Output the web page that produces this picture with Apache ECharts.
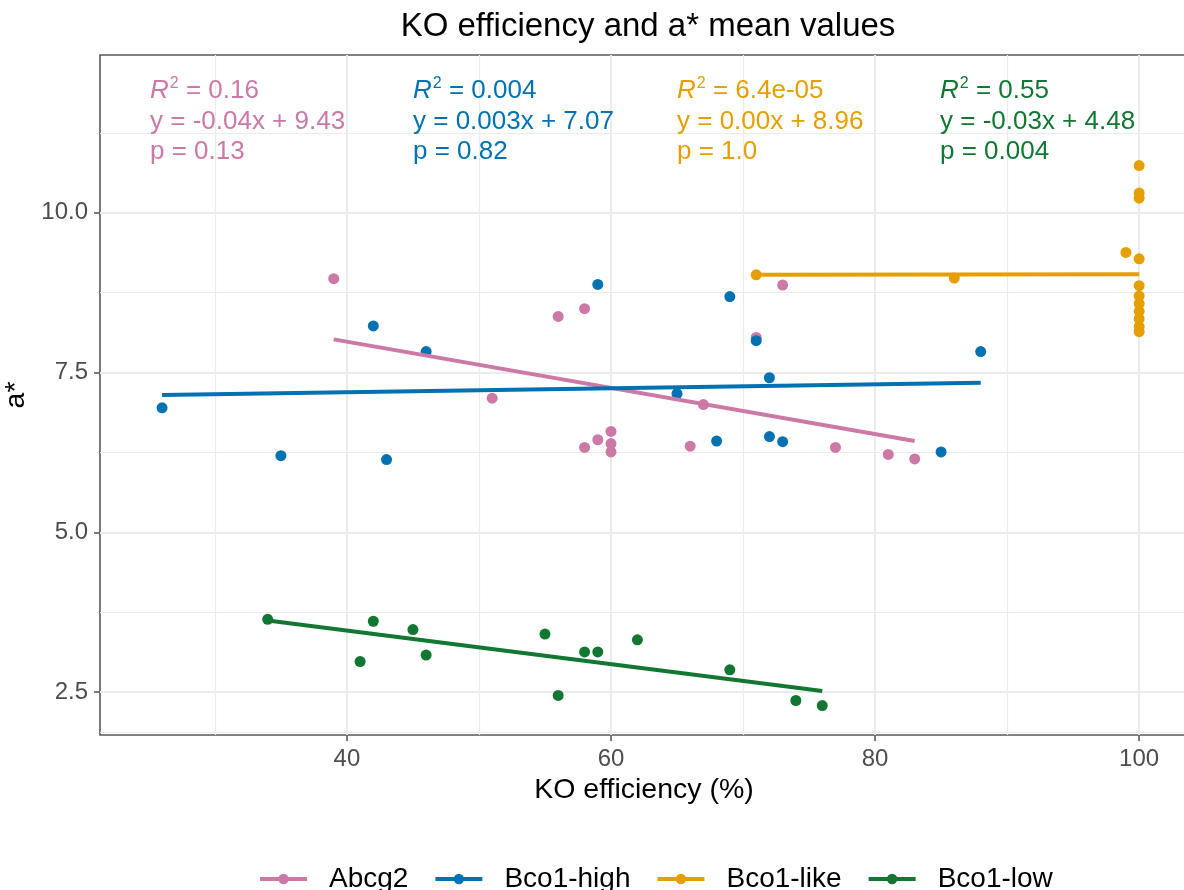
<!DOCTYPE html>
<html><head><meta charset="utf-8">
<script src="https://cdn.jsdelivr.net/npm/echarts@6/dist/echarts.min.js"></script>
<style>html,body{margin:0;padding:0;background:#fff}#c{width:1184px;height:890px}</style>
</head><body><div id="c"></div>
<script>
const groups = ['Abcg2', 'Bco1-high', 'Bco1-like', 'Bco1-low'];
const colors = ['#CC79A7', '#0072B2', '#E69F00', '#117733'];

const abcg2X = [39, 51, 56, 58, 58, 59, 60, 60, 60, 66, 67, 71, 73, 77, 81, 83];
const abcg2Y = [8.97, 7.10, 8.38, 8.50, 6.33, 6.45, 6.58, 6.39, 6.26, 6.35, 7.00, 8.05, 8.87, 6.33, 6.22, 6.15];
const highX = [26, 35, 42, 43, 46, 59, 65, 68, 69, 71, 72, 72, 73, 85, 88];
const highY = [6.95, 6.20, 8.23, 6.14, 7.83, 8.88, 7.17, 6.43, 8.69, 8.00, 7.42, 6.50, 6.42, 6.26, 7.83];
const likeX = [71, 86, 99, 100, 100, 100, 100, 100, 100, 100, 100, 100, 100, 100];
const likeY = [9.03, 8.98, 9.38, 10.74, 10.31, 10.23, 9.28, 8.86, 8.70, 8.58, 8.46, 8.34, 8.22, 8.14];
const lowX = [34, 41, 42, 45, 46, 55, 56, 58, 59, 62, 69, 74, 76];
const lowY = [3.64, 2.98, 3.61, 3.48, 3.08, 3.41, 2.45, 3.13, 3.13, 3.32, 2.85, 2.37, 2.29];

// fitted regression line end points (x, y)
const fitAbcg2 = [[39, 8.02], [83, 6.43]];
const fitHigh = [[26, 7.15], [88, 7.34]];
const fitLike = [[71, 9.03], [100, 9.04]];
const fitLow = [[34, 3.62], [76, 2.52]];

const xTicks = [40, 60, 80, 100];
const xMinor = [30, 50, 70, 90];
const yTicks = [2.5, 5.0, 7.5, 10.0];
const yMinor = [1.875, 3.75, 6.25, 8.75, 11.25];

const statR2 = ['0.16', '0.004', '6.4e-05', '0.55'];
const statEq = ['y = -0.04x + 9.43', 'y = 0.003x + 7.07', 'y = 0.00x + 8.96', 'y = -0.03x + 4.48'];
const statP = ['p = 0.13', 'p = 0.82', 'p = 1.0', 'p = 0.004'];

const xs = [abcg2X, highX, likeX, lowX];
const ys = [abcg2Y, highY, likeY, lowY];
const fits = [fitAbcg2, fitHigh, fitLike, fitLow];

const FONT = '"Liberation Sans", Arial, sans-serif';
const chart = echarts.init(document.getElementById('c'), null, {renderer: 'canvas'});

const series = [];
// grid lines
series.push({
  type: 'line', data: [], z: 1, silent: true,
  markLine: {
    z: 1, silent: true, symbol: 'none', animation: false,
    label: {show: false},
    lineStyle: {color: '#EBEBEB', width: 1.2, type: 'solid'},
    emphasis: {disabled: true},
    data: xMinor.map(v => ({xAxis: v})).concat(yMinor.map(v => ({yAxis: v})))
  }
});
series.push({
  type: 'line', data: [], z: 1, silent: true,
  markLine: {
    z: 1, silent: true, symbol: 'none', animation: false,
    label: {show: false},
    lineStyle: {color: '#EBEBEB', width: 2, type: 'solid'},
    emphasis: {disabled: true},
    data: xTicks.map(v => ({xAxis: v})).concat(yTicks.map(v => ({yAxis: v})))
  }
});
groups.forEach((g, i) => {
  series.push({
    name: g, type: 'line', z: 4,
    data: fits[i],
    symbol: 'circle', symbolSize: 11, showSymbol: false,
    itemStyle: {color: colors[i]},
    lineStyle: {color: colors[i], width: 4},
    animation: false, silent: true
  });
});
groups.forEach((g, i) => {
  series.push({
    name: g, type: 'scatter', z: 3,
    data: xs[i].map((x, k) => [x, ys[i][k]]),
    symbol: 'circle', symbolSize: 11,
    itemStyle: {color: colors[i], opacity: 1},
    animation: false, silent: true
  });
});

const graphics = [];
const annX = [150, 413, 677, 940];
groups.forEach((g, i) => {
  graphics.push({
    type: 'text', left: annX[i], top: 76, silent: true, z: 10,
    style: {
      text: '{r|R}{s|2}{n| = ' + statR2[i] + '}\n{n|' + statEq[i] + '}\n{n|' + statP[i] + '}',
      fill: colors[i],
      font: '26px ' + FONT,
      rich: {
        r: {fontStyle: 'italic', fontSize: 26, fontFamily: FONT, fill: colors[i], lineHeight: 30.5},
        s: {fontSize: 16, fontFamily: FONT, fill: colors[i], verticalAlign: 'top', lineHeight: 30.5, padding: [0, 0, 14, 1]},
        n: {fontSize: 26, fontFamily: FONT, fill: colors[i], lineHeight: 30.5}
      }
    }
  });
});

chart.setOption({
  backgroundColor: '#ffffff',
  animation: false,
  title: {
    text: 'KO efficiency and a* mean values',
    left: 643, top: 5, textAlign: 'center',
    textStyle: {fontFamily: FONT, fontSize: 33, fontWeight: 'normal', color: '#000'}
  },
  legend: {
    data: groups, left: 253, top: 860,
    itemWidth: 47, itemHeight: 13, itemGap: 25,
    textStyle: {fontFamily: FONT, fontSize: 28, color: '#000', padding: [0, 0, 0, 17]},
    lineStyle: {width: 4}
  },
  grid: {
    left: 100, top: 55, width: 1088, height: 680,
    outerBoundsMode: 'none',
    show: true, borderColor: '#5a5a5a', borderWidth: 1.6, backgroundColor: '#fff',
    containLabel: false
  },
  xAxis: {
    type: 'value', min: 21.3, max: 103.7,
    name: 'KO efficiency (%)', nameLocation: 'middle', nameGap: 40,
    nameTextStyle: {fontFamily: FONT, fontSize: 28.5, color: '#000'},
    axisLine: {show: false},
    axisTick: {show: true, customValues: xTicks, length: 6, lineStyle: {color: '#5a5a5a', width: 1.6}},
    axisLabel: {customValues: xTicks, margin: 12, fontFamily: FONT, fontSize: 24, color: '#4D4D4D'},
    splitLine: {show: false}
  },
  yAxis: {
    type: 'value', min: 1.83, max: 12.47,
    name: 'a*', nameLocation: 'middle', nameGap: 62,
    nameTextStyle: {fontFamily: FONT, fontSize: 28.5, color: '#000'},
    axisLine: {show: false},
    axisTick: {show: true, customValues: yTicks, length: 6, lineStyle: {color: '#5a5a5a', width: 1.6}},
    axisLabel: {customValues: yTicks, margin: 12, fontFamily: FONT, fontSize: 24, color: '#4D4D4D',
      formatter: v => Number(v).toFixed(1)},
    splitLine: {show: false}
  },
  series: series,
  graphic: graphics
});
</script>
</body></html>
